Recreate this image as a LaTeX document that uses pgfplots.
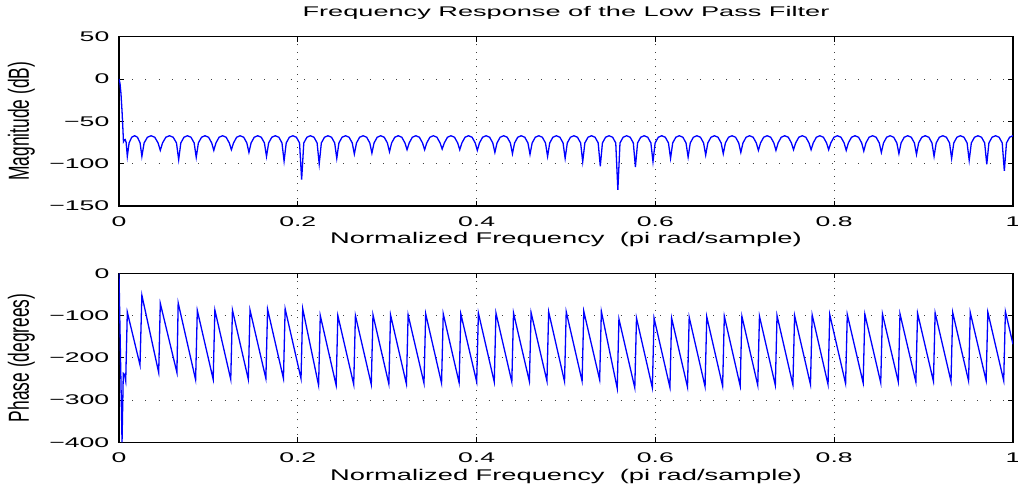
\documentclass[border=0pt]{standalone}
\usepackage{fontspec}
\usepackage{pgfplots}
\pgfplotsset{compat=1.18}
\setmainfont{Liberation Sans}
\newfontfamily\hfont{Liberation Sans}[FakeStretch=1.9]
\newfontfamily\tfont{Liberation Sans}[FakeStretch=1.94]
\newfontfamily\xlfont{Liberation Sans}[FakeStretch=1.76]
\newfontfamily\vfont{Liberation Sans}[FakeStretch=0.6]

\pgfplotstableread{
x y
0 0
0.0011 -5
0.0022 -17
0.0034 -38
0.0045 -62
0.0050 -74
0.0060 -72
0.0070 -71.5
0.0080 -75
0.0093 -91.4
0.0113 -75.5
0.0142 -68.8
0.0175 -67
0.0207 -68.8
0.0236 -75.5
0.0256 -91.4
0.0281 -75.5
0.0318 -68.8
0.0359 -67
0.0400 -68.8
0.0437 -75.5
0.0462 -84.3
0.0487 -75.5
0.0524 -68.8
0.0565 -67
0.0606 -68.8
0.0643 -75.5
0.06675 -95.3
0.06915 -75.5
0.07265 -68.8
0.07655 -67
0.08055 -68.8
0.08405 -75.5
0.0864 -92.5
0.0888 -75.5
0.0923 -68.8
0.0962 -67
0.1002 -68.8
0.1037 -75.5
0.10605 -84.3
0.10845 -75.5
0.11195 -68.8
0.11585 -67
0.11985 -68.8
0.12335 -75.5
0.1257 -83.5
0.1281 -75.5
0.1316 -68.8
0.1355 -67
0.1395 -68.8
0.1430 -75.5
0.14535 -86.7
0.14775 -75.5
0.15125 -68.8
0.15515 -67
0.15915 -68.8
0.16265 -75.5
0.165 -91.4
0.1674 -75.5
0.1709 -68.8
0.1748 -67
0.1788 -68.8
0.1823 -75.5
0.18465 -96.9
0.18705 -75.5
0.19055 -68.8
0.19445 -67
0.19845 -68.8
0.20195 -75.5
0.2043 -118.8
0.2067 -75.5
0.2102 -68.8
0.2141 -67
0.2181 -68.8
0.2216 -75.5
0.22395 -100.4
0.22635 -75.5
0.22985 -68.8
0.23375 -67
0.23775 -68.8
0.24125 -75.5
0.2436 -93.7
0.2460 -75.5
0.2495 -68.8
0.2534 -67
0.2574 -68.8
0.2609 -75.5
0.26325 -88.6
0.26565 -75.5
0.26915 -68.8
0.27305 -67
0.27705 -68.8
0.28055 -75.5
0.2829 -87.5
0.2853 -75.5
0.2888 -68.8
0.2927 -67
0.2967 -68.8
0.3002 -75.5
0.30255 -85.9
0.30495 -75.5
0.30845 -68.8
0.31235 -67
0.31635 -68.8
0.31985 -75.5
0.3222 -83.5
0.3246 -75.5
0.3281 -68.8
0.3320 -67
0.3360 -68.8
0.3395 -75.5
0.34185 -83.5
0.34425 -75.5
0.34775 -68.8
0.35165 -67
0.35565 -68.8
0.35915 -75.5
0.3615 -82.7
0.3639 -75.5
0.3674 -68.8
0.3713 -67
0.3753 -68.8
0.3788 -75.5
0.38115 -83.5
0.38355 -75.5
0.38705 -68.8
0.39095 -67
0.39495 -68.8
0.39845 -75.5
0.4008 -84.3
0.4032 -75.5
0.4067 -68.8
0.4106 -67
0.4146 -68.8
0.4181 -75.5
0.42045 -86.7
0.42285 -75.5
0.42635 -68.8
0.43025 -67
0.43425 -68.8
0.43775 -75.5
0.4401 -88.2
0.4425 -75.5
0.4460 -68.8
0.4499 -67
0.4539 -68.8
0.4574 -75.5
0.45975 -89.0
0.46215 -75.5
0.46565 -68.8
0.46955 -67
0.47355 -68.8
0.47705 -75.5
0.4794 -91.4
0.4818 -75.5
0.4853 -68.8
0.4892 -67
0.4932 -68.8
0.4967 -75.5
0.49905 -93.7
0.50145 -75.5
0.50495 -68.8
0.50885 -67
0.51285 -68.8
0.51635 -75.5
0.5187 -97.6
0.5211 -75.5
0.5246 -68.8
0.5285 -67
0.5325 -68.8
0.5360 -75.5
0.53835 -103
0.54075 -75.5
0.54425 -68.8
0.54815 -67
0.55215 -68.8
0.55565 -75.5
0.558 -131
0.5604 -75.5
0.5639 -68.8
0.5678 -67
0.5718 -68.8
0.5753 -75.5
0.57765 -103.9
0.58005 -75.5
0.58355 -68.8
0.58745 -67
0.59145 -68.8
0.59495 -75.5
0.5973 -97.6
0.5997 -75.5
0.6032 -68.8
0.6071 -67
0.6111 -68.8
0.6146 -75.5
0.61695 -93.7
0.61935 -75.5
0.62285 -68.8
0.62675 -67
0.63075 -68.8
0.63425 -75.5
0.6366 -92.2
0.6390 -75.5
0.6425 -68.8
0.6464 -67
0.6504 -68.8
0.6539 -75.5
0.65625 -89.8
0.65865 -75.5
0.66215 -68.8
0.66605 -67
0.67005 -68.8
0.67355 -75.5
0.6759 -88.2
0.6783 -75.5
0.6818 -68.8
0.6857 -67
0.6897 -68.8
0.6932 -75.5
0.69555 -86.7
0.69795 -75.5
0.70145 -68.8
0.70535 -67
0.70935 -68.8
0.71285 -75.5
0.7152 -84.3
0.7176 -75.5
0.7211 -68.8
0.7250 -67
0.7290 -68.8
0.7325 -75.5
0.73485 -84.3
0.73725 -75.5
0.74075 -68.8
0.74465 -67
0.74865 -68.8
0.75215 -75.5
0.7545 -83.5
0.7569 -75.5
0.7604 -68.8
0.7643 -67
0.7683 -68.8
0.7718 -75.5
0.77415 -83.5
0.77655 -75.5
0.78005 -68.8
0.78395 -67
0.78795 -68.8
0.79145 -75.5
0.7938 -83.5
0.7962 -75.5
0.7997 -68.8
0.8036 -67
0.8076 -68.8
0.8111 -75.5
0.81345 -84.3
0.81585 -75.5
0.81935 -68.8
0.82325 -67
0.82725 -68.8
0.83075 -75.5
0.8331 -85.1
0.8355 -75.5
0.8390 -68.8
0.8429 -67
0.8469 -68.8
0.8504 -75.5
0.85275 -86.7
0.85515 -75.5
0.85865 -68.8
0.86255 -67
0.86655 -68.8
0.87005 -75.5
0.8724 -88.2
0.8748 -75.5
0.8783 -68.8
0.8822 -67
0.8862 -68.8
0.8897 -75.5
0.89205 -89.0
0.89445 -75.5
0.89795 -68.8
0.90185 -67
0.90585 -68.8
0.90935 -75.5
0.9117 -91.4
0.9141 -75.5
0.9176 -68.8
0.9215 -67
0.9255 -68.8
0.9290 -75.5
0.93135 -93.7
0.93375 -75.5
0.93725 -68.8
0.94115 -67
0.94515 -68.8
0.94865 -75.5
0.951 -96.1
0.9534 -75.5
0.9569 -68.8
0.9608 -67
0.9648 -68.8
0.9683 -75.5
0.97065 -100.8
0.97305 -75.5
0.97655 -68.8
0.98045 -67
0.98445 -68.8
0.98795 -75.5
0.9903 -108.6
0.9927 -75.5
0.9962 -68.8
1.0 -67
}\magdata

\pgfplotstableread{
x y
0 0
0.0034 -400
0.0048 -237
0.0062 -240
0.0075 -255
0.0093 -92
0.0235 -217
0.0256 -52
0.0444 -235
0.0462 -71
0.0648 -235
0.0662 -70
0.0857 -252
0.0876 -88
0.10535 -251
0.10725 -87
0.1250 -251
0.1269 -87
0.14465 -251
0.14655 -87
0.1643 -249
0.1662 -85
0.18395 -249
0.18585 -84
0.2036 -249
0.2055 -84
0.22325 -265
0.22515 -100
0.2429 -265
0.2448 -100
0.26255 -263
0.26445 -100
0.2822 -263
0.2841 -98.4
0.30185 -262
0.30375 -98.4
0.3215 -262
0.3234 -98.4
0.34115 -260
0.34305 -96
0.3608 -260
0.3627 -96
0.38045 -259
0.38235 -96
0.4001 -257
0.4020 -94
0.41975 -257
0.42165 -94
0.4394 -257
0.4413 -94
0.45905 -256
0.46095 -93
0.4787 -255
0.4806 -91
0.49835 -256
0.50025 -91
0.5180 -255
0.5199 -90
0.53765 -252
0.53955 -90
0.5573 -272
0.5592 -108
0.57695 -271
0.57885 -106
0.5966 -271
0.5985 -106
0.61625 -270
0.61815 -106
0.6359 -269
0.6378 -104
0.65555 -268
0.65745 -103
0.6752 -267
0.6771 -101.6
0.69485 -266.5
0.69675 -101.6
0.7145 -265
0.7164 -101.6
0.73415 -265
0.73605 -100
0.7538 -264
0.7557 -100
0.77345 -263
0.77535 -98.4
0.7931 -263
0.7950 -97.6
0.81275 -261
0.81465 -97.6
0.8324 -259.5
0.8343 -97
0.85205 -259
0.85395 -96
0.8717 -257
0.8736 -96
0.89135 -257
0.89325 -94.4
0.9110 -255.6
0.9129 -93.7
0.93065 -255.6
0.93255 -92.9
0.9503 -254.8
0.9522 -92.9
0.96995 -254
0.97185 -92
0.9896 -254
0.9915 -90.5
1.0 -168
}\phasedata

\pgfplotsset{
  mlab/.style={
    scale only axis, width=894pt,
    xmin=0, xmax=1,
    xtick={0,0.2,0.4,0.6,0.8,1},
    xticklabels={0,0.2,0.4,0.6,0.8,1},
    tick align=inside,
    major tick length=5pt,
    tick style={black, line width=0.8pt},
    axis line style={black, line width=1.1pt},
    grid=major,
    x grid style={black!75, line width=0.9pt, dash pattern=on 0.9pt off 6.4pt},
    y grid style={black!75, line width=0.9pt, dash pattern=on 0.9pt off 12.3pt},
    ticklabel style={font=\hfont\fontsize{14}{16}\selectfont, inner sep=0pt},
    xticklabel style={anchor=base, yshift=-20.7pt},
    yticklabel style={anchor=east, xshift=-9.5pt},
    xlabel={Normalized Frequency\ \ (pi rad/sample)},
    xlabel style={font=\xlfont\fontsize{15.5}{17}\selectfont, at={(axis description cs:0.5,0)}, anchor=base, yshift=-38pt, inner sep=0pt},
    ylabel style={font=\vfont\fontsize{29}{30}\selectfont, at={(axis description cs:-0.1007,0.5)}, anchor=base, rotate=0, inner sep=0pt},
  }
}

\begin{document}
\begin{tikzpicture}
\useasboundingbox (0,0) rectangle (1018pt,489pt);
\begin{axis}[mlab,
  at={(119pt,283pt)}, anchor=south west,
  height=169.3pt,
  ymin=-150, ymax=50,
  ytick={-150,-100,-50,0,50},
  yticklabels={−150,−100,−50,0,50},
  ylabel={Magnitude (dB)},
  title={Frequency Response of the Low Pass Filter},
  title style={font=\tfont\fontsize{14}{16}\selectfont, at={(axis description cs:0.5,1)}, anchor=base, yshift=14.4pt, inner sep=0pt},
]
\addplot[blue, line width=1.3pt] table[x=x,y=y] {\magdata};
\end{axis}
\begin{axis}[mlab,
  at={(119pt,46.7pt)}, anchor=south west,
  height=169pt,
  ymin=-400, ymax=0,
  ytick={-400,-300,-200,-100,0},
  yticklabels={−400,−300,−200,−100,0},
  ylabel={Phase (degrees)},
]
\addplot[blue, line width=1.3pt] table[x=x,y=y] {\phasedata};
\end{axis}
\end{tikzpicture}
\end{document}
